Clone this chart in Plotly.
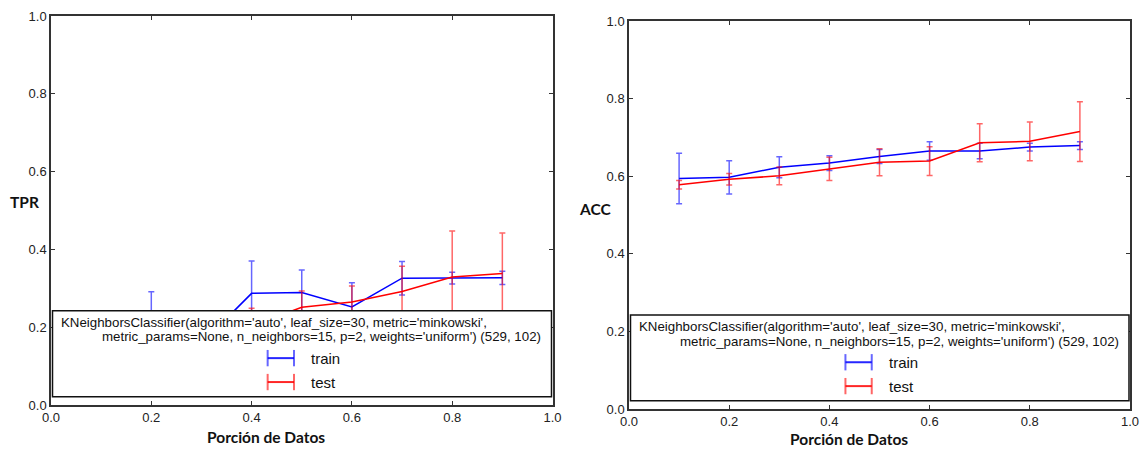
import plotly.graph_objects as go

# ---------------- data ----------------
portions = [0.1, 0.2, 0.3, 0.4, 0.5, 0.6, 0.7, 0.8, 0.9]

tpr_train = [0.13, 0.20, 0.158, 0.287, 0.289, 0.252, 0.326, 0.326, 0.327]
tpr_train_err = [0.05, 0.091, 0.06, 0.083, 0.058, 0.062, 0.043, 0.015, 0.017]
tpr_test = [0.08, 0.12, 0.16, 0.203, 0.251, 0.265, 0.292, 0.329, 0.338]
tpr_test_err = [0.05, 0.05, 0.05, 0.046, 0.042, 0.041, 0.065, 0.118, 0.104]

acc_train = [0.594, 0.597, 0.623, 0.634, 0.651, 0.665, 0.665, 0.675, 0.679]
acc_train_err = [0.065, 0.043, 0.027, 0.019, 0.018, 0.024, 0.02, 0.01, 0.01]
acc_test = [0.578, 0.592, 0.601, 0.619, 0.636, 0.639, 0.686, 0.690, 0.715]
acc_test_err = [0.011, 0.015, 0.023, 0.03, 0.035, 0.037, 0.049, 0.05, 0.077]

ticks = [0.0, 0.2, 0.4, 0.6, 0.8, 1.0]
tick_text = ["0.0", "0.2", "0.4", "0.6", "0.8", "1.0"]

series_names = ["train", "test"]
model_line1 = "KNeighborsClassifier(algorithm='auto', leaf_size=30, metric='minkowski',"
model_line2 = "metric_params=None, n_neighbors=15, p=2, weights='uniform') (529, 102)"
ylabels = ["TPR", "ACC"]
xlabel = "Porción de Datos"

# ---------------- style ----------------
BLUE = "rgb(0,0,255)"
BLUE_E = "rgba(0,0,255,0.6)"
RED = "rgb(255,0,0)"
RED_E = "rgba(255,0,0,0.6)"
SANS = "Liberation Sans, Arial, sans-serif"
TICKFONT = dict(family=SANS, size=13, color="#222")
LABELFONT = dict(family="Lato, Open Sans, sans-serif", size=15.5, color="#111")
LEGFONT = dict(family=SANS, size=13.3, color="#111")

W, H = 1145, 449

fig = go.Figure()


def add_series(xa, ya, y, err, color, ecolor, name):
    fig.add_trace(go.Scatter(
        x=portions, y=y, mode="lines", name=name,
        line=dict(color=color, width=1.5),
        error_y=dict(type="data", array=err, visible=True,
                     color=ecolor, thickness=1.5, width=3),
        xaxis=xa, yaxis=ya, showlegend=False,
    ))


add_series("x", "y", tpr_train, tpr_train_err, BLUE, BLUE_E, series_names[0])
add_series("x", "y", tpr_test, tpr_test_err, RED, RED_E, series_names[1])
add_series("x2", "y2", acc_train, acc_train_err, BLUE, BLUE_E, series_names[0])
add_series("x2", "y2", acc_test, acc_test_err, RED, RED_E, series_names[1])

# axes pixel geometry
left = dict(x0=51, x1=552.5, ytop=16, ybot=405)
right = dict(x0=629, x1=1130, ytop=21, ybot=409)

axis_common = dict(
    range=[0, 1], tickvals=ticks, ticktext=tick_text, ticks="inside",
    ticklen=4, tickwidth=1, tickcolor="#333", showline=True, linecolor="#333",
    linewidth=1.5, mirror="allticks", showgrid=False, zeroline=False,
    tickfont=TICKFONT, fixedrange=True, automargin=False,
)

layout = dict(
    width=W, height=H, autosize=False, margin=dict(l=0, r=0, t=0, b=0, pad=0),
    paper_bgcolor="white", plot_bgcolor="white", showlegend=False,
    xaxis=dict(domain=[left["x0"] / W, left["x1"] / W], anchor="y", **axis_common),
    yaxis=dict(domain=[1 - left["ybot"] / H, 1 - left["ytop"] / H], anchor="x", **axis_common),
    xaxis2=dict(domain=[right["x0"] / W, right["x1"] / W], anchor="y2", **axis_common),
    yaxis2=dict(domain=[1 - right["ybot"] / H, 1 - right["ytop"] / H], anchor="x2", **axis_common),
)
fig.update_layout(**layout)

shapes = []
annotations = []
for xa, ya, lab, xl_pos, yl_pos in [
    ("x", "y", ylabels[0], (265.5, 436.5), (24, 202)),
    ("x2", "y2", ylabels[1], (849, 439), (594.5, 209)),
]:
    xd, yd = xa + " domain", ya + " domain"
    # legend box
    shapes.append(dict(type="rect", xref=xd, yref=yd, x0=0.003, x1=0.998, y0=0.021, y1=0.242,
                       fillcolor="white", line=dict(color="#111", width=1.5), layer="above"))
    annotations.append(dict(xref=xd, yref=yd, x=0.015, y=0.212, xanchor="left", yanchor="middle",
                            text=model_line1, showarrow=False, font=LEGFONT))
    annotations.append(dict(xref=xd, yref=yd, x=0.098, y=0.175, xanchor="left", yanchor="middle",
                            text=model_line2, showarrow=False, font=LEGFONT))
    # legend icons
    for name, col, yy in [(series_names[0], BLUE_E, 0.1205), (series_names[1], RED_E, 0.059)]:
        shapes.append(dict(type="line", xref=xd, yref=yd, x0=0.432, x1=0.4845, y0=yy, y1=yy,
                           line=dict(color=col.replace("0.6", "0.85"), width=2), layer="above"))
        for cx in (0.432, 0.4845):
            shapes.append(dict(type="line", xref=xd, yref=yd, x0=cx, x1=cx, y0=yy - 0.021, y1=yy + 0.021,
                               line=dict(color=col, width=2), layer="above"))
        annotations.append(dict(xref=xd, yref=yd, x=0.514, y=yy, xanchor="left", yanchor="middle",
                                text=name, showarrow=False,
                                font=dict(family=SANS, size=15, color="#111")))
    # axis labels
    annotations.append(dict(xref="paper", yref="paper", x=xl_pos[0] / W, y=1 - xl_pos[1] / H,
                            xanchor="center", yanchor="middle", text="<b>" + xlabel + "</b>",
                            showarrow=False, font=LABELFONT, borderpad=0))
    annotations.append(dict(xref="paper", yref="paper", x=yl_pos[0] / W, y=1 - yl_pos[1] / H,
                            xanchor="center", yanchor="middle", text="<b>" + lab + "</b>",
                            showarrow=False, font=LABELFONT))

fig.update_layout(shapes=shapes, annotations=annotations)
fig.write_html("out.html", config={"responsive": False},
               post_script="document.body.style.margin='0px';")
